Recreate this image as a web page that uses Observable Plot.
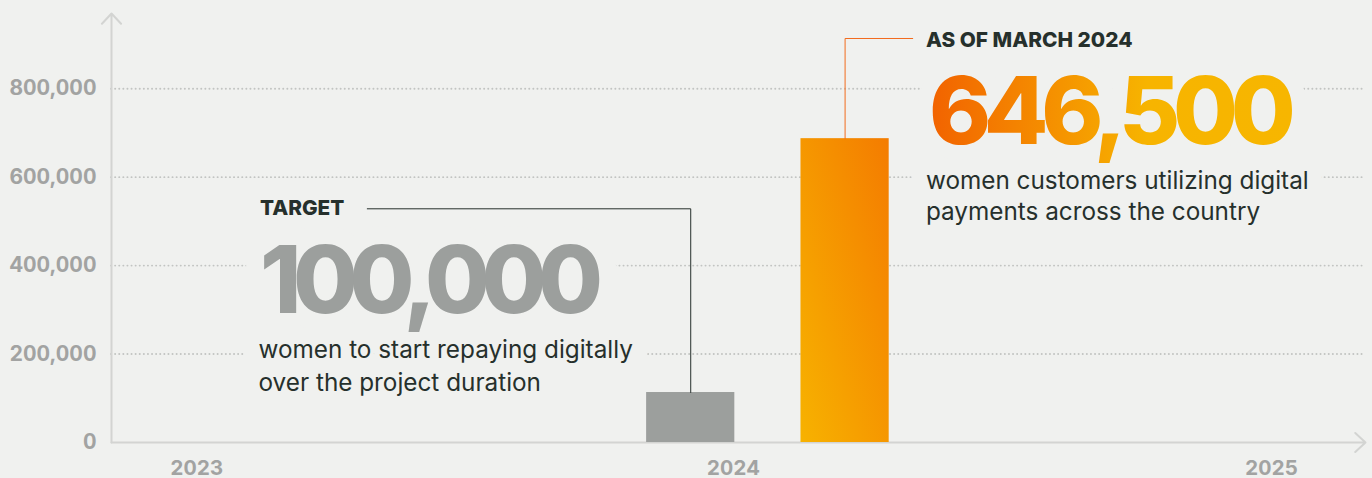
<!DOCTYPE html>
<html><head><meta charset="utf-8">
<script src="https://cdn.jsdelivr.net/npm/d3@7"></script>
<script src="https://cdn.jsdelivr.net/npm/@observablehq/plot@0.6"></script>
<style>
html,body{margin:0;padding:0;background:#f0f1ef;}
#chart svg{display:block;}
</style></head><body><div id="chart"></div>
<script>
// ---- data ----
const yTicks = [0, 200000, 400000, 600000, 800000];
const yearTicks = ["2023-01-01", "2024-01-01", "2025-01-01"];
const barLabels = ["Target", "As of March 2024"];
const barDates = ["2023-12-03", "2024-03-17"];
const barValues = [113000, 687000];
const headings = ["TARGET", "AS OF MARCH 2024"];
const bigNumbers = ["100,000", "646,500"];
const descriptions = [
  "women to start repaying digitally\nover the project duration",
  "women customers utilizing digital\npayments across the country"
];

// ---- chart ----
const bg = "#f0f1ef";
const dark = "#26302c";
const grayBar = "#9c9f9d";
const tickColor = "#a2a3a2";
const axisColor = "#d3d4d2";
const xStart = new Date("2022-11-04"), xEnd = new Date("2025-03-06");
const yMax = 970000;
const bars = barLabels.map((label, i) => ({label, date: new Date(barDates[i]), value: barValues[i]}));
const halfWidth = 30; // days each side of a bar's date

// annotation text items (anchored in data coordinates)
const targetLines = descriptions[0].split("\n");
const currentLines = descriptions[1].split("\n");
const texts = [
  {text: headings[0], x: "2023-02-13", y: 528400, size: 20.8, weight: 800, fill: dark, halo: 30, anchor: "middle"},
  {text: bigNumbers[0], x: "2023-02-13", y: 361800, size: 94, weight: 800, fill: grayBar, halo: 36, anchor: "middle", spacing: -8.5},
  {text: targetLines[0], x: "2023-02-12", y: 230000, size: 24.3, weight: 400, fill: dark, halo: 34, anchor: "top"},
  {text: targetLines[1], x: "2023-02-12", y: 156600, size: 24.3, weight: 400, fill: dark, halo: 34, anchor: "top"},
  {text: headings[1], x: "2024-05-11", y: 908300, size: 20.8, weight: 800, fill: dark, halo: 20, anchor: "middle"},
  {text: bigNumbers[1], x: "2024-05-13", y: 743900, size: 94, weight: 800, fill: "url(#numGrad)", halo: 30, anchor: "middle", spacing: -7.3},
  {text: currentLines[0], x: "2024-05-11", y: 613300, size: 24.3, weight: 400, fill: dark, halo: 30, anchor: "top"},
  {text: currentLines[1], x: "2024-05-11", y: 543200, size: 24.3, weight: 400, fill: dark, halo: 30, anchor: "top"}
];
const textMark = (t, isHalo) => Plot.text([t.text], {
  x: () => new Date(t.x), y: () => t.y, text: d => d,
  textAnchor: "start", lineAnchor: t.anchor,
  fontSize: t.size, fontWeight: t.weight,
  fill: isHalo ? bg : t.fill,
  ...(isHalo ? {stroke: bg, strokeWidth: t.halo, strokeLinejoin: "round"} : {})
});

const one = [0];
const plot = Plot.plot({
  width: 1372, height: 478,
  marginLeft: 111, marginRight: 7, marginTop: 13, marginBottom: 36,
  style: {background: bg, fontFamily: "Inter, sans-serif", overflow: "visible"},
  x: {type: "utc", domain: [xStart, xEnd]},
  y: {domain: [0, yMax]},
  marks: [
    // dotted gridlines
    Plot.ruleY(yTicks.filter(d => d > 0), {stroke: "#c2c4c2", strokeWidth: 1.9, strokeDasharray: "0.1,4", strokeLinecap: "round"}),
    // axes
    Plot.axisY({ticks: yTicks, tickSize: 0, tickPadding: 15, tickFormat: d3.format(","), fontSize: 21, fontWeight: 700, fill: tickColor, label: null}),
    Plot.axisX({ticks: yearTicks.map(d => new Date(d)), tickSize: 0, tickPadding: 18, tickFormat: d3.utcFormat("%Y"), fontSize: 20.5, fontWeight: 700, fill: tickColor, label: null}),
    Plot.arrow(one, {x1: () => xStart, y1: () => 0, x2: () => xStart, y2: () => yMax, stroke: axisColor, strokeWidth: 2, headLength: 10.5, headAngle: 86}),
    Plot.arrow(one, {x1: () => xStart, y1: () => 0, x2: () => xEnd, y2: () => 0, stroke: axisColor, strokeWidth: 2, headLength: 10.5, headAngle: 86}),
    // halos (cut the gridlines behind the annotations), then the texts
    ...texts.map(t => textMark(t, true)),
    ...texts.map(t => textMark(t, false)),
    // bars
    Plot.rectY(bars.slice(0, 1), {x1: d => d3.utcDay.offset(d.date, -halfWidth), x2: d => d3.utcDay.offset(d.date, halfWidth), y: "value", fill: grayBar}),
    Plot.rectY(bars.slice(1), {x1: d => d3.utcDay.offset(d.date, -halfWidth), x2: d => d3.utcDay.offset(d.date, halfWidth), y: "value", fill: "url(#barGrad)"}),
    // leader lines
    Plot.line([
      {x: new Date("2023-04-27"), y: 528400},
      {x: bars[0].date, y: 528400},
      {x: bars[0].date, y: bars[0].value}
    ], {x: "x", y: "y", stroke: dark, strokeWidth: 1}),
    Plot.line([
      {x: new Date("2024-05-02"), y: 913500},
      {x: bars[1].date, y: 913500},
      {x: bars[1].date, y: bars[1].value}
    ], {x: "x", y: "y", stroke: "#f26b1d", strokeWidth: 1})
  ]
});

// gradients
const svg = d3.select(plot);
const defs = svg.insert("defs", ":first-child");
const bgGrad = defs.append("linearGradient").attr("id", "barGrad")
  .attr("x1", 1).attr("y1", 0).attr("x2", 0).attr("y2", 1);
bgGrad.append("stop").attr("offset", 0).attr("stop-color", "#f47c00");
bgGrad.append("stop").attr("offset", 1).attr("stop-color", "#f7b200");
const nGrad = defs.append("linearGradient").attr("id", "numGrad")
  .attr("x1", 0).attr("y1", 0).attr("x2", 1).attr("y2", 0);
nGrad.append("stop").attr("offset", 0).attr("stop-color", "#f26200");
nGrad.append("stop").attr("offset", 0.6).attr("stop-color", "#f7b400");
nGrad.append("stop").attr("offset", 1).attr("stop-color", "#f7b600");

// tight letter-spacing of the big numbers
texts.filter(t => t.spacing).forEach(t => {
  svg.selectAll("text").filter(function () { return this.textContent === t.text; })
    .attr("letter-spacing", t.spacing);
});

document.getElementById("chart").appendChild(plot);
</script>
</body></html>
